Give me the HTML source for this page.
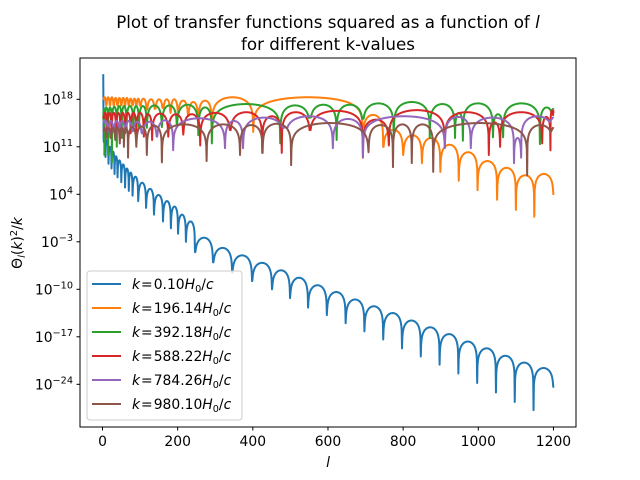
<!DOCTYPE html>
<html><head><meta charset="utf-8"><style>
body{margin:0;background:#fff}
svg{display:block;font-family:"DejaVu Sans","Liberation Sans",sans-serif}
</style></head><body>
<svg id="chart" width="640" height="480" viewBox="0 0 640 480" xmlns="http://www.w3.org/2000/svg">
<rect x="0" y="0" width="640" height="480" fill="#fff"/>
<text x="328" y="28" text-anchor="middle" font-size="16.7">Plot of transfer functions squared as a function of <tspan font-style="italic">l</tspan></text>
<text x="328" y="50" text-anchor="middle" font-size="16.7">for different k-values</text>
<defs><clipPath id="plotclip"><rect x="80" y="58" width="496" height="369"/></clipPath></defs>
<g id="series" clip-path="url(#plotclip)"></g>
<rect x="80" y="58" width="496" height="369" fill="none" stroke="#000" stroke-width="1"/>
<g id="xticks"></g>
<g id="yticks"></g>
<text x="328" y="467" text-anchor="middle" font-size="13.9" font-style="italic">l</text>
<text transform="translate(22,243) rotate(-90)" text-anchor="middle" font-size="13.9">Θ<tspan font-style="italic" font-size="10" dy="3">l</tspan><tspan dy="-3">(</tspan><tspan font-style="italic">k</tspan>)<tspan font-size="10" dy="-5">2</tspan><tspan dy="5">/</tspan><tspan font-style="italic">k</tspan></text>
<g id="legend">
<rect x="87" y="271" width="155" height="149" rx="3" fill="#fff" fill-opacity="0.8" stroke="#ccc" stroke-width="1"/>
</g>
</svg>
<script>
const xTicks = [0, 200, 400, 600, 800, 1000, 1200];
const yTickExps = [18, 11, 4, -3, -10, -17, -24];
const seriesLabels = ["0.10", "196.14", "392.18", "588.22", "784.26", "980.10"];
const seriesColors = ["#1f77b4", "#ff7f0e", "#2ca02c", "#d62728", "#9467bd", "#8c564b"];

const blueStart = [2, 21.7];
const blueDipL = [3,8,16,24,32,40,50,60,70,80,95,116,137,161,182,201,222,246,294,345,398,451,499,547,597,647,697,747,797,847,897,947,997,1047,1097,1147,1200];
const blueDipLog = [12,9.5,8.5,7.8,7,6.5,5.8,5,4.5,3.8,3,2,1,0,-1,-1.8,-3,-4.5,-6,-7.5,-8.8,-10,-11.3,-12.7,-13.8,-15.0,-16.2,-17.4,-18.7,-19.9,-21.1,-22.4,-23.8,-25.2,-26.6,-27.8,-24.5];
const bluePeakLog = [12.5,12,11,10.3,9.6,9,8.4,7.8,7.2,6.6,5.7,4.8,3.9,3.0,2.2,1.0,0.0,-2.4,-3.9,-5.0,-6.1,-7.2,-8.3,-9.4,-10.4,-11.5,-12.5,-13.5,-14.6,-15.6,-16.6,-17.7,-18.7,-19.8,-20.8,-21.6];

const orangeDipL = [2,10,20,30,40,50,60,70,80,90,100,118,140,161,181,201,228,255,291,401,693,747,800,850,899,948,998,1050,1100,1149,1200];
const orangeDipLog = [18.3,17.1,17.1,17.1,17.1,17.1,17.1,17.1,17.1,17.1,17.1,16.5,16.6,16.7,16.0,16.0,15.5,14.5,13.2,13.2,13.9,11.0,9.8,8.6,7.3,6.0,4.6,3.2,1.7,0.7,3.9];
const orangePeakLog = [18.3,18.3,18.3,18.2,18.2,18.2,18.2,18.1,18.1,18.1,18.1,18.0,18.0,18.0,18.0,17.8,17.6,17.8,18.3,18.3,15.7,13.5,12.7,12.3,11.3,10.2,8.9,7.9,6.8,7.0];

const greenDipL = [2,5,15,25,38,51,64,82,97,118,158,198,255,291,473,552,623,693,775,871,938,959,1039,1066,1164,1200];
const greenDipLog = [15.5,9.8,9.8,8.7,11.0,12.3,13.2,13.8,13.9,13.8,13.9,13.9,12.7,11.5,11.5,15.4,12.0,15.2,12.4,12.3,12.3,11.9,12.4,12.4,11.4,16.7];
const greenPeakLog = [16.5,16.8,16.8,16.9,17,17,17,17,17,17.1,17.1,17.2,16.8,17.3,17.1,17.2,17.2,17.4,17.6,17.3,16.0,17.4,15.8,17.4,16.8];

const redDipL = [2,12,24,36,48,60,75,90,110,132,175,215,260,340,425,477,552,693,762,911,1028,1058,1170,1192,1200];
const redDipLog = [15.5,13,13,13,13.5,13,13,13,12.5,12.0,12.5,12.8,11.2,13.5,10.1,10.1,13.5,9.4,11.2,11.0,9.8,11.0,11.5,10.5,16.4];
const redPeakLog = [16,16,16,16,16,16,16,16,15.8,15.9,15.8,15.8,16,16.1,15.5,16.1,16.3,15.0,16.4,16.1,14.6,16.1,15.4,16.4];

const purpleDipL = [2,15,30,45,60,80,105,145,188,326,374,486,613,693,911,980,1095,1114,1200];
const purpleDipLog = [15.0,13.2,13.2,13.3,13.3,13.3,13.0,12.5,10.5,10.8,10.8,13.9,10.8,9.5,10.8,10.8,8.6,9.4,15.4];
const purplePeakLog = [14.8,14.8,14.8,14.8,14.8,14.7,14.7,14.9,15.2,14.8,15.3,15.5,15.1,15.5,15.4,15.3,12.3,15.5];

const brownDipL = [2,10,22,34,46,57,68,90,118,158,277,366,426,502,708,773,823,880,1130,1200];
const brownDipLog = [13.5,12.3,12.3,12.0,11.5,11,9.4,11,9.8,8.7,8.9,9.8,10.1,8.3,10.2,8.0,8.6,7.3,6.8,13.9];
const brownPeakLog = [13.8,13.8,13.8,13.8,13.8,13.8,13.9,14,14.1,14.3,14.3,14.2,14.4,14.5,14.2,14.3,14.3,14.5,14.2];

const NS = "http://www.w3.org/2000/svg";
function xScale(l){ return 102.5 + l * 0.3758; }
function yScale(e){ return 99.3 - (e - 18) * 6.786; }

function archPath(dipL, dipLog, peakLog, start){
  const pts = [];
  if (start) pts.push([xScale(start[0]), yScale(start[1])]);
  for (let i = 0; i < dipL.length - 1; i++){
    const l0 = dipL[i], l1 = dipL[i+1];
    const d0 = dipLog[i], d1 = dipLog[i+1], p = peakLog[i];
    const w = xScale(l1) - xScale(l0);
    const n = Math.max(16, Math.ceil(w * 3));
    for (let j = (i === 0 ? 0 : 1); j <= n; j++){
      const t = j / n;
      const s = Math.sin(Math.PI * t);
      let v = p + 2 * Math.log10(Math.max(s, 1e-12));
      const fl = d0 + (d1 - d0) * t;
      if (v < fl) v = fl;
      if (j === 0) v = d0;
      if (j === n) v = d1;
      pts.push([xScale(l0 + (l1 - l0) * t), yScale(v)]);
    }
  }
  return "M" + pts.map(p => p[0].toFixed(2) + "," + p[1].toFixed(2)).join("L");
}

const g = document.getElementById("series");
const seriesDefs = [
  [blueDipL, blueDipLog, bluePeakLog, blueStart],
  [orangeDipL, orangeDipLog, orangePeakLog, null],
  [greenDipL, greenDipLog, greenPeakLog, null],
  [redDipL, redDipLog, redPeakLog, null],
  [purpleDipL, purpleDipLog, purplePeakLog, null],
  [brownDipL, brownDipLog, brownPeakLog, null]
];
const seriesNames = ["series-k-0-10", "series-k-196-14", "series-k-392-18", "series-k-588-22", "series-k-784-26", "series-k-980-10"];
seriesDefs.forEach((s, i) => {
  const path = document.createElementNS(NS, "path");
  path.setAttribute("d", archPath(s[0], s[1], s[2], s[3]));
  path.setAttribute("fill", "none");
  path.setAttribute("stroke", seriesColors[i]);
  path.setAttribute("stroke-width", "2");
  path.setAttribute("stroke-linejoin", "round");
  
  
  g.appendChild(path);
});

const xg = document.getElementById("xticks");
xTicks.forEach(v => {
  const x = xScale(v);
  const ln = document.createElementNS(NS, "line");
  ln.setAttribute("x1", x); ln.setAttribute("x2", x);
  ln.setAttribute("y1", 427); ln.setAttribute("y2", 430.5);
  ln.setAttribute("stroke", "#000");
  
  
  xg.appendChild(ln);
  const t = document.createElementNS(NS, "text");
  t.setAttribute("x", x); t.setAttribute("y", 446);
  t.setAttribute("text-anchor", "middle");
  t.setAttribute("font-size", "13.9");
  t.textContent = String(v);
  
  
  xg.appendChild(t);
});

const yg = document.getElementById("yticks");
yTickExps.forEach(e => {
  const y = yScale(e);
  const ln = document.createElementNS(NS, "line");
  ln.setAttribute("x1", 76.5); ln.setAttribute("x2", 80);
  ln.setAttribute("y1", y); ln.setAttribute("y2", y);
  ln.setAttribute("stroke", "#000");
  
  
  yg.appendChild(ln);
  const t = document.createElementNS(NS, "text");
  t.setAttribute("x", 73); t.setAttribute("y", y + 5);
  t.setAttribute("text-anchor", "end");
  t.setAttribute("font-size", "13.9");
  const sup = document.createElementNS(NS, "tspan");
  sup.setAttribute("font-size", "9.7");
  sup.setAttribute("dy", "-6");
  sup.textContent = (e < 0 ? "\u2212" + (-e) : String(e));
  t.appendChild(document.createTextNode("10"));
  t.appendChild(sup);
  
  
  yg.appendChild(t);
});

const lg = document.getElementById("legend");
seriesLabels.forEach((lab, i) => {
  const y = 284 + i * 24;
  const ln = document.createElementNS(NS, "line");
  ln.setAttribute("x1", 92); ln.setAttribute("x2", 121);
  ln.setAttribute("y1", y); ln.setAttribute("y2", y);
  ln.setAttribute("stroke", seriesColors[i]);
  ln.setAttribute("stroke-width", "2");
  
  
  lg.appendChild(ln);
  const t = document.createElementNS(NS, "text");
  t.setAttribute("x", 132); t.setAttribute("y", y + 5);
  t.setAttribute("font-size", "13.9");
  t.innerHTML = '<tspan font-style="italic">k</tspan><tspan dx="1">=</tspan><tspan dx="1">' + lab + '</tspan><tspan font-style="italic">H</tspan><tspan font-size="9.7" dy="3">0</tspan><tspan dy="-3">/</tspan><tspan font-style="italic">c</tspan>';
  
  
  lg.appendChild(t);
});
</script>
</body></html>
